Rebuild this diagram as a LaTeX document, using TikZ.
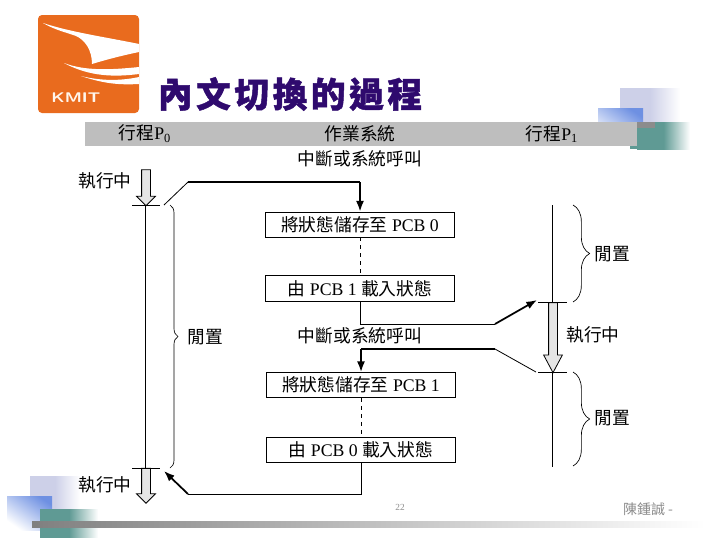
\documentclass[tikz,border=0pt]{standalone}
\usepackage{fontspec}
\setmainfont{Liberation Serif}
\newfontfamily\cjk{Noto Sans CJK TC}
\newfontfamily\cjktitle[LetterSpace=10.4,BoldFeatures={FakeBold=1.4}]{Noto Sans CJK TC}
\usepackage{xcolor}
\usetikzlibrary{arrows.meta,positioning,shapes.arrows,decorations.pathreplacing}
\definecolor{logoorange}{HTML}{E96B1E}
\definecolor{titlepurple}{HTML}{2F0A6E}
\definecolor{barfill}{HTML}{BEBEBE}
\definecolor{lavender}{HTML}{CDD0E8}
\definecolor{squareblue}{HTML}{6E90E2}
\definecolor{squareteal}{HTML}{5F9A94}
\definecolor{footgray}{HTML}{8C8C8C}

\begin{document}
\begin{tikzpicture}[
  x=0.75pt, y=-0.75pt,
  node distance=28.5pt,
  stepbox/.style={draw, inner sep=0pt, align=center, minimum width=141.5pt, minimum height=19pt, font=\fontsize{13.3}{16}\selectfont},
  lbl/.style={inner sep=0pt, font=\fontsize{13.3}{16}\selectfont},
  foot/.style={inner sep=0pt, text=footgray},
  arrow/.style={-{Latex[length=8pt,width=6pt]}, line width=1.3pt},
  flow/.style={line width=1.3pt},
  thinflow/.style={line width=0.6pt},
  timeline/.style={line width=0.6pt},
  runarrow/.style={draw, line width=0.6pt, fill=black!10, single arrow, rotate=-90, inner sep=3pt, single arrow head extend=3.75pt, minimum width=13.5pt},
  idle/.style={decorate, decoration={brace, amplitude=#1}, line width=0.5pt}
]
\useasboundingbox (0,0) rectangle (720,540);

\fill[logoorange, rounded corners=3pt] (38,15) rectangle (139,113);
\fill[white] (43,23) .. controls (70,32) and (105,37) .. (139,44) -- (139,52) .. controls (120,56) and (105,60) .. (92,64) .. controls (92,50) and (85,40) .. (76,36) .. controls (65,32) and (55,30) .. (43,23) -- cycle;
\fill[white] (64,63) .. controls (85,71) and (110,70) .. (139,67) -- (139,74) .. controls (115,77) and (90,77) .. (64,63) -- cycle;
\fill[white] (81,76) .. controls (105,82) and (125,80) .. (139,77) -- (139,84) .. controls (120,85) and (105,84) .. (81,76) -- cycle;
\node[inner sep=0pt, text=white!92!orange, font=\fontsize{10.5}{12}\sffamily\bfseries, xscale=1.25] (logotext) at (76,98) {KMIT};

\node[inner sep=0pt, text=titlepurple, font=\fontsize{26}{30}\cjktitle\bfseries] (title) at (290,94) {內文切換的過程};

\shade[left color=lavender, right color=white, middle color=lavender] (620,88) rectangle (680,124);
\shade[shading=axis, top color=squareblue, bottom color=white, shading angle=-35] (598,108) rectangle (643,145);
\shade[left color=squareteal, right color=white, middle color=squareteal] (637,122) rectangle (690,149);
\fill[squareteal] (630,146) rectangle (640,149);
\fill[barfill] (85,122) rectangle (637,146);
\fill[black!45] (637,122) rectangle (655,128);

\shade[shading=axis, left color=lavender, right color=white, middle color=lavender] (30,476) rectangle (80,510);
\shade[shading=axis, top color=squareblue, bottom color=white, shading angle=-35] (7,496) rectangle (52,530);
\shade[left color=squareteal, right color=white, middle color=squareteal] (40,509) rectangle (98,537);
\shade[left color=black!50, right color=white] (32,521) rectangle (705,527);

\node[lbl] (procA) at (145,134) {\cjk 行程{\rmfamily P\textsubscript{0}}};
\node[lbl] (kernel) at (360,134) {\cjk 作業系統};
\node[lbl] (procB) at (552,134) {\cjk 行程{\rmfamily P\textsubscript{1}}};
\node[lbl] (irqA) at (360,159) {\cjk 中斷或系統呼叫};
\node[lbl] (irqB) at (360,336) {\cjk 中斷或系統呼叫};

\node[stepbox] (saveA) at (360,224.5) {{\cjk 將狀態儲存至} PCB 0};
\node[stepbox, below=of saveA] (loadB) {{\cjk 由} PCB 1 {\cjk 載入狀態}};
\node[stepbox] (saveB) at (361,385) {{\cjk 將狀態儲存至} PCB 1};
\node[stepbox, below=29pt of saveB] (loadA) {{\cjk 由} PCB 0 {\cjk 載入狀態}};

\node[lbl] (runA) at (105,181) {\cjk 執行中};
\node[lbl] (runB) at (105,485) {\cjk 執行中};
\node[lbl] (runC) at (593,335) {\cjk 執行中};
\node[lbl] (idleA) at (205,337) {\cjk 閒置};
\node[lbl] (idleB) at (612,254) {\cjk 閒置};
\node[lbl] (idleC) at (612,418) {\cjk 閒置};

\node[foot, font=\fontsize{7}{8}\selectfont] (page) at (400,507) {22};
\node[foot, font=\fontsize{10.5}{12}\selectfont] (author) at (648,509) {\cjk 陳鍾誠 -};

\node[runarrow, minimum height=27pt] (runAarrow) at (146,185.5) {};
\node[runarrow, minimum height=26.25pt] (runBarrow) at (146,483.5) {};
\node[runarrow, minimum height=52.5pt, single arrow tip angle=56] (runCarrow) at (553,333.5) {};

\coordinate (aTopL) at (132,205);
\coordinate (aTopR) at (160,205);
\coordinate (aBotL) at (132,468);
\coordinate (aBotR) at (160,468);
\coordinate (aTop) at (145,205);
\coordinate (aBot) at (145,468);
\coordinate (bTopL) at (538,302);
\coordinate (bTopR) at (567,302);
\coordinate (bBotL) at (538,372);
\coordinate (bBotR) at (567,372);
\coordinate (bStart) at (552,205);
\coordinate (bTop) at (552,302);
\coordinate (bBot) at (552,372);
\coordinate (bEnd) at (552,467);

\draw[timeline] (aTop) -- (aBot);
\draw[timeline] (aTopL) -- (aTopR);
\draw[timeline] (aBotL) -- (aBotR);
\draw[timeline] (bStart) -- (bTop);
\draw[timeline] (bBot) -- (bEnd);
\draw[timeline] (bTopL) -- (bTopR);
\draw[timeline] (bBotL) -- (bBotR);

\coordinate (idleAtop) at (170,205);
\coordinate (idleAbot) at (170,468);
\coordinate (idleBtop) at (573,205);
\coordinate (idleBbot) at (573,302);
\coordinate (idleCtop) at (573,372);
\coordinate (idleCbot) at (573,466);
\draw[idle=6pt] (idleAtop) -- (idleAbot);
\draw[idle=12.5pt] (idleBtop) -- (idleBbot);
\draw[idle=12.5pt] (idleCtop) -- (idleCbot);

\coordinate (leaveA) at (164,205);
\coordinate (bendA) at (188,182);
\draw[thinflow] (leaveA) -- (bendA);
\draw[flow] (bendA) -- (bendA -| saveA.north);
\draw[arrow] (bendA -| saveA.north) -- (saveA.north);

\draw[dashed, thinflow] (saveA) -- (loadB);
\draw[dashed, thinflow] (saveB) -- (loadA);

\coordinate (bendB) at (495,324);
\coordinate (enterB) at (537,300);
\draw[line width=0.75pt] (loadB.south) |- (bendB);
\draw[arrow] (bendB) -- (enterB);

\coordinate (leaveB) at (536,372);
\coordinate (bendC) at (495,349);
\draw[thinflow] (leaveB) -- (bendC);
\draw[flow] (bendC) -- (bendC -| saveB.north);
\draw[arrow] (bendC -| saveB.north) -- (saveB.north);

\coordinate (bendD) at (188,494);
\coordinate (enterA) at (164,471);
\draw[line width=0.75pt] (loadA.south) |- (bendD);
\draw[arrow] (bendD) -- (enterA);
\end{tikzpicture}
\end{document}
